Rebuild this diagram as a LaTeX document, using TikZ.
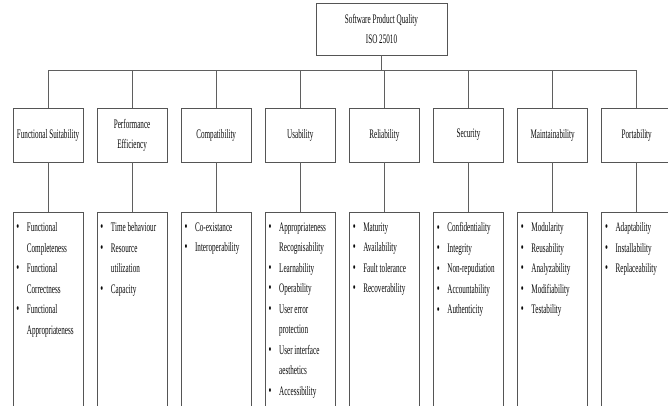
\documentclass[tikz,border=0pt]{standalone}
\usepackage{fontspec}
\setmainfont{Liberation Serif}[FakeStretch=0.55]
\usetikzlibrary{positioning, shadows}
\definecolor{qedge}{RGB}{85,85,85}
\definecolor{qline}{RGB}{95,95,95}
\definecolor{qtext}{RGB}{10,10,10}
\tikzset{
  qshadow/.style  = {drop shadow={shadow xshift=0.6pt, shadow yshift=-1.4pt,
                      fill=black!45, opacity=0.6}},
  topbox/.style   = {rectangle, draw=qedge, line width=0.7pt, fill=white, qshadow,
                      text=qtext, align=center, minimum width=131pt, minimum height=52pt,
                      font=\fontsize{13}{20}\selectfont, inner sep=2pt},
  catbox/.style   = {rectangle, draw=qedge, line width=0.7pt, fill=white, qshadow,
                      text=qtext, align=center, minimum width=70pt, minimum height=54pt,
                      font=\fontsize{13}{20}\selectfont, inner sep=1pt},
  listbox/.style  = {rectangle, draw=qedge, line width=0.7pt, fill=white, qshadow,
                      minimum width=70pt, minimum height=230pt, inner sep=0pt},
  listtext/.style = {anchor=north west, align=left, text=qtext, inner sep=0pt,
                      font=\fontsize{13}{20.5}\selectfont, xshift=3.5pt, yshift=-10pt},
  conn/.style     = {draw=qline, line width=0.6pt},
}
\newcommand{\bul}{\makebox[10.5pt][l]{\raisebox{-0.3pt}{\fontsize{15}{15}\selectfont\textbullet}}}
\newcommand{\cont}{\hspace*{10.5pt}}

\begin{document}
\begin{tikzpicture}[x=1pt, y=-1pt]
  \useasboundingbox (0,0) rectangle (668,406);
  \clip (0,0) rectangle (668,406);
  % root
  \node[topbox] (spq) at (381.5,29) {Software Product Quality\\ISO 25010};
  \coordinate (bus) at (381.5,70);
  % characteristics
  \node[catbox] (c1) at (48,135) {Functional Suitability};
  \node[catbox, right=13.4pt of c1] (c2) {Performance\\Efficiency};
  \node[catbox, right=13.4pt of c2] (c3) {Compatibility};
  \node[catbox, right=13.4pt of c3] (c4) {Usability};
  \node[catbox, right=13.4pt of c4] (c5) {Reliability};
  \node[catbox, right=13.4pt of c5] (c6) {Security};
  \node[catbox, right=13.4pt of c6] (c7) {Maintainability};
  \node[catbox, right=13.4pt of c7] (c8) {Portability};
  % sub-characteristic boxes
  \foreach \i in {1,...,8} {
    \node[listbox, below=50pt of c\i] (l\i) {};
    \draw[conn] (c\i.north) -- (c\i.north |- bus);
    \draw[conn] (c\i.south) -- (l\i.north);
  }
  \draw[conn] (spq.south) -- (bus);
  \draw[conn] (c1.north |- bus) -- (c8.north |- bus);
  % lists
  \node[listtext] (t1) at (l1.north west) {\bul Functional\\ \cont Completeness\\ \bul Functional\\ \cont Correctness\\ \bul Functional\\ \cont Appropriateness};
  \node[listtext] (t2) at (l2.north west) {\bul Time behaviour\\ \bul Resource\\ \cont utilization\\ \bul Capacity};
  \node[listtext] (t3) at (l3.north west) {\bul Co-existance\\ \bul Interoperability};
  \node[listtext] (t4) at (l4.north west) {\bul Appropriateness\\ \cont Recognisability\\ \bul Learnability\\ \bul Operability\\ \bul User error\\ \cont protection\\ \bul User interface\\ \cont aesthetics\\ \bul Accessibility};
  \node[listtext] (t5) at (l5.north west) {\bul Maturity\\ \bul Availability\\ \bul Fault tolerance\\ \bul Recoverability};
  \node[listtext] (t6) at (l6.north west) {\bul Confidentiality\\ \bul Integrity\\ \bul Non-repudiation\\ \bul Accountability\\ \bul Authenticity};
  \node[listtext] (t7) at (l7.north west) {\bul Modularity\\ \bul Reusability\\ \bul Analyzability\\ \bul Modifiability\\ \bul Testability};
  \node[listtext] (t8) at (l8.north west) {\bul Adaptability\\ \bul Installability\\ \bul Replaceability};
\end{tikzpicture}
\end{document}
